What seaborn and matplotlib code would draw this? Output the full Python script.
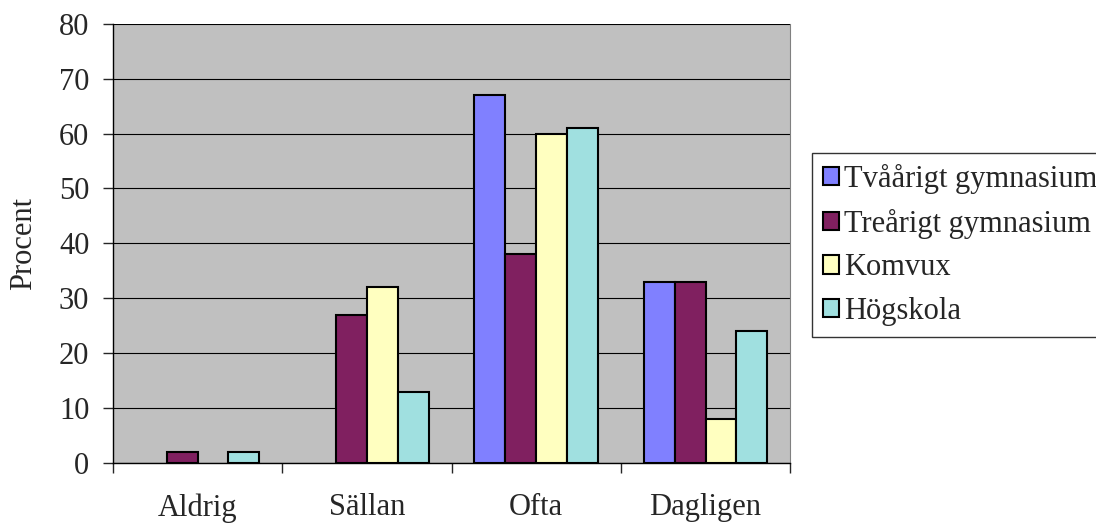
import pandas as pd
import numpy as np
import matplotlib
matplotlib.use('Agg')
import matplotlib.pyplot as plt
import seaborn as sns

# data
kategorier = ['Aldrig', 'Sällan', 'Ofta', 'Dagligen']
grupper = ['Tvåårigt gymnasium', 'Treårigt gymnasium', 'Komvux', 'Högskola']
tvaarigt = [0, 0, 67, 33]
trearigt = [2, 27, 38, 33]
komvux = [0, 32, 60, 8]
hogskola = [2, 13, 61, 24]
farger = ['#8080FF', '#802060', '#FFFFC0', '#A0E0E0']

df = pd.DataFrame({'kategori': kategorier * 4,
                   'grupp': np.repeat(grupper, 4),
                   'procent': tvaarigt + trearigt + komvux + hogskola})

sns.set_style('white')
plt.rcParams['font.family'] = ['Liberation Serif', 'DejaVu Serif']

fig = plt.figure(figsize=(10.96, 5.29), dpi=100)
ax = fig.add_axes([0.103, 0.125, 0.618, 0.830])
ax.set_facecolor('#C0C0C0')

sns.barplot(data=df, x='kategori', y='procent', hue='grupp',
            order=kategorier, hue_order=grupper, palette=farger,
            width=0.73, edgecolor='black', linewidth=1.5,
            saturation=1, ax=ax, zorder=3)

ax.set_ylim(0, 80)
ax.set_xlim(-0.5, 3.5)
ax.set_yticks(range(0, 81, 10))
ax.yaxis.grid(True, color='black', linewidth=0.8, zorder=0)
ax.set_axisbelow(True)
ax.set_xlabel('')
ax.set_ylabel('Procent', fontsize=22, labelpad=15)

ax.tick_params(axis='y', labelsize=22, length=7, width=1, direction='out', left=True, pad=10)
ax.tick_params(axis='x', which='major', labelsize=22, length=0, pad=22)
ax.set_xticks(np.arange(-0.5, 3.6, 1), minor=True)
ax.tick_params(axis='x', which='minor', length=7, width=1, direction='out', bottom=True)

for s in ['left', 'bottom']:
    ax.spines[s].set_color('black')
    ax.spines[s].set_linewidth(1)
ax.spines['right'].set_color('#808080')
ax.spines['top'].set_visible(False)

leg = ax.legend(loc='upper left', bbox_to_anchor=(1.032, 0.705), fontsize=22,
                frameon=True, fancybox=False, edgecolor='black',
                handlelength=0.55, handleheight=0.55, handletextpad=0.15,
                labelspacing=0.48, borderpad=0.35, borderaxespad=0)
leg.get_frame().set_linewidth(1)
for h in leg.legend_handles:
    h.set_linewidth(1.5)

# staplar med 0 ritas inte (efter legenden)
for p in ax.patches:
    if p.get_height() == 0:
        p.set_visible(False)

fig.savefig('out.png', dpi=100)
